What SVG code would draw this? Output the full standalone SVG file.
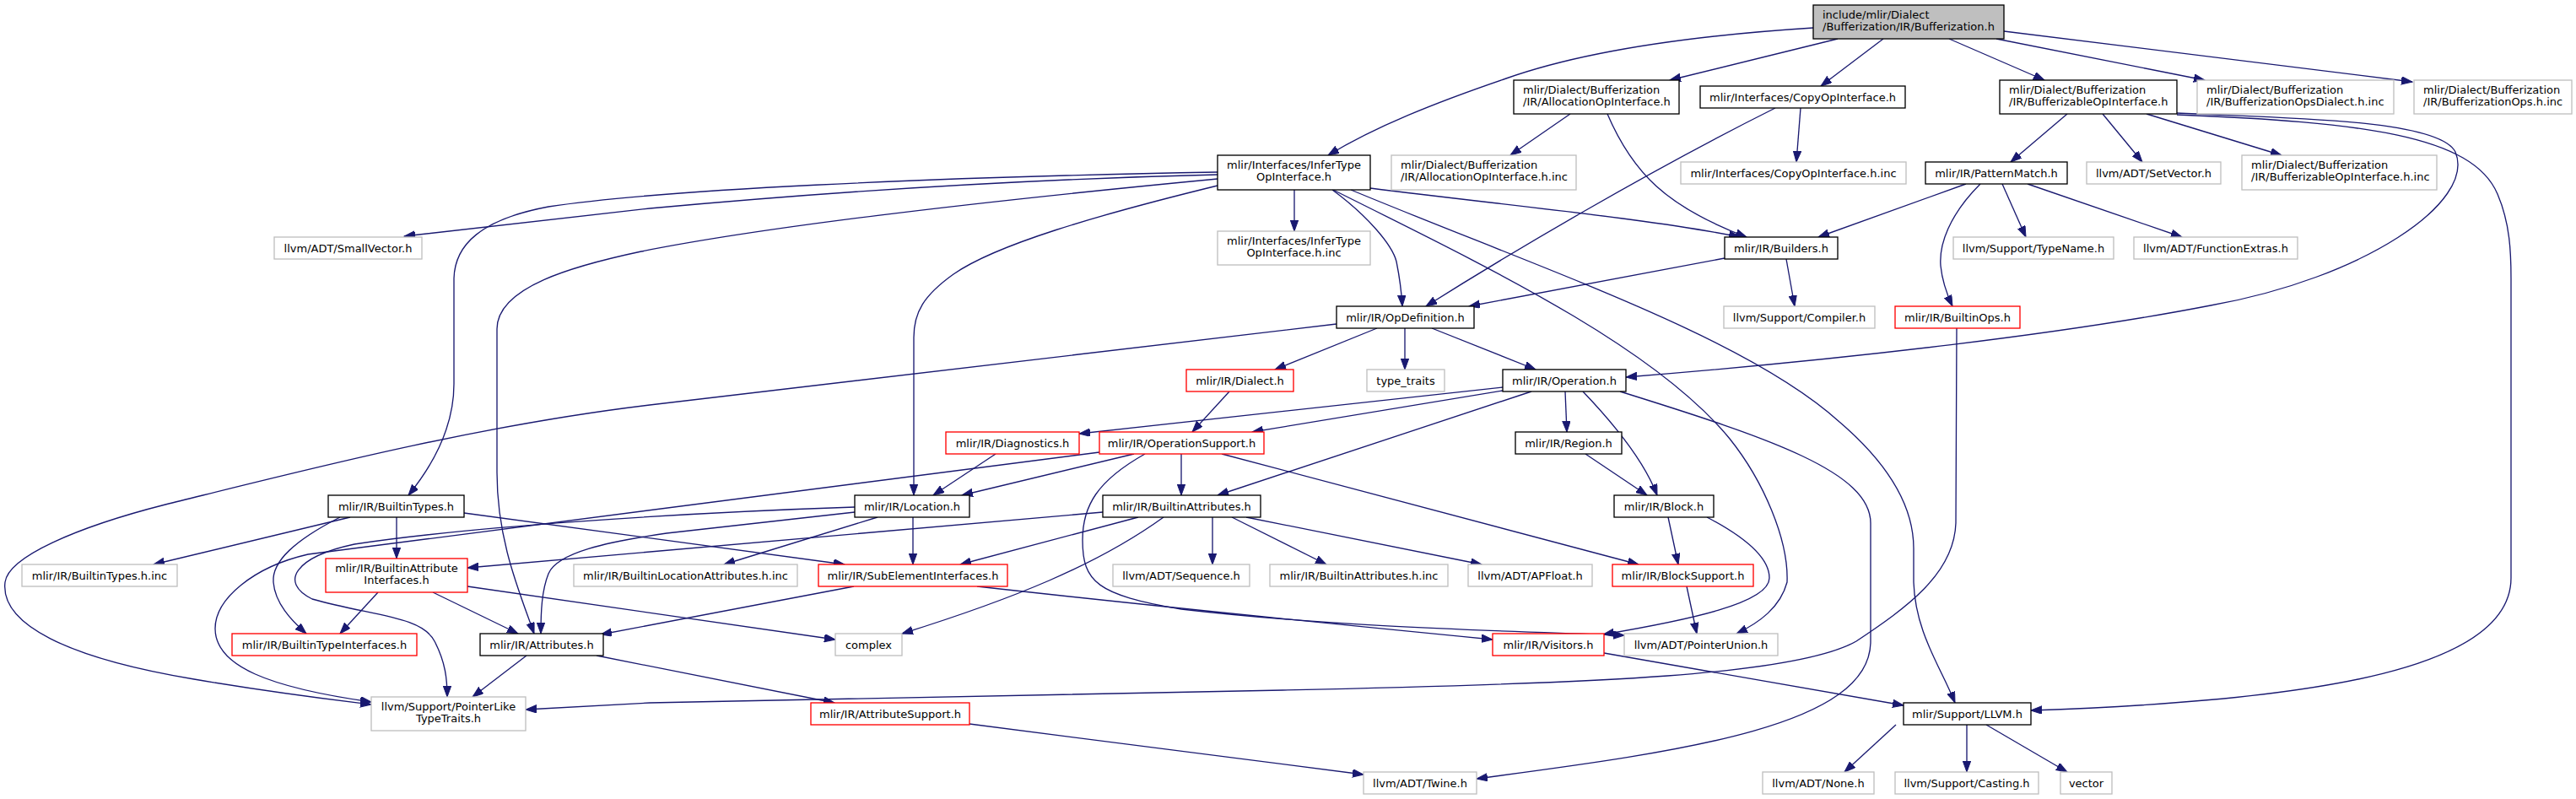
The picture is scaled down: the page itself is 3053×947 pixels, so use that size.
<svg xmlns="http://www.w3.org/2000/svg" width="3053" height="947" viewBox="0 0 3053 947">
<defs>
<style>
.nd rect{fill:#ffffff;stroke:#000000;stroke-width:1.33}
.ext rect{stroke:#bfbfbf}
.tr rect{stroke:#ff0000}
.root rect{fill:#bfbfbf}
text{font-family:"DejaVu Sans","Liberation Sans",sans-serif;font-size:13px;fill:#000000}
.c{text-anchor:middle}
.edges path{fill:none;stroke:#191970;stroke-width:1.33;marker-end:url(#ah)}
</style>
<marker id="ah" markerWidth="14" markerHeight="10" refX="13" refY="4.7" orient="auto" markerUnits="userSpaceOnUse">
<path d="M0,0 L13,4.7 L0,9.4 z" fill="#191970" stroke="#191970" stroke-width="1"/>
</marker>
</defs>
<rect x="0" y="0" width="3053" height="947" fill="#ffffff"/>
<g class="edges">
<path d="M2149,33 C1960,45 1850,70 1785,93 C1700,122 1630,150 1574,184"/>
<path d="M2178,46 L1979,95"/>
<path d="M2232,46 L2158,102"/>
<path d="M2310,46 L2423,95"/>
<path d="M2366,46 L2613,95"/>
<path d="M2375,37 L2859,97"/>
<path d="M1861,135 L1790,184"/>
<path d="M1905,135 C1935,205 1975,245 2070,281"/>
<path d="M2134,128 L2129,192"/>
<path d="M2104,128 C1950,205 1790,300 1690,363"/>
<path d="M2450,135 L2383,192"/>
<path d="M2492,135 L2539,192"/>
<path d="M2544,135 L2704,184"/>
<path d="M2580,134 C2700,140 2890,140 2910,180 C2935,240 2800,330 2620,362 C2450,395 2200,425 1927,447"/>
<path d="M2580,136 C2800,145 2930,160 2960,230 C2975,265 2976,300 2976,330 L2976,685 C2976,790 2760,830 2407,842"/>
<path d="M2330,218 L2155,281"/>
<path d="M2347,218 C2310,255 2298,290 2300,315 C2302,335 2308,350 2314,363"/>
<path d="M2373,218 L2401,281"/>
<path d="M2403,218 L2586,281"/>
<path d="M1443,207 C1150,214 900,235 770,247 L479,280"/>
<path d="M1443,204 C1100,210 780,225 650,245 C570,260 539,290 538,330 L538,455 C538,510 510,555 484,587"/>
<path d="M1443,212 C1150,240 900,270 760,298 C680,315 589,340 589,390 L589,560 C589,640 615,700 633,751"/>
<path d="M1443,220 C1300,255 1180,290 1130,325 C1095,350 1083,370 1083,400 L1083,587"/>
<path d="M1534,225 L1534,274"/>
<path d="M1579,225 C1620,255 1650,290 1655,310 C1659,330 1661,345 1662,363"/>
<path d="M1580,225 C1760,315 1960,410 2050,520 C2090,570 2120,640 2118,690 C2110,720 2085,738 2058,751"/>
<path d="M1601,225 C1830,320 2070,400 2180,500 C2250,560 2268,610 2268,650 L2268,690 C2270,750 2300,790 2317,833"/>
<path d="M1624,223 C1800,245 1960,260 2062,281"/>
<path d="M2117,307 L2127,363"/>
<path d="M2044,306 L1741,363"/>
<path d="M1632,389 L1511,438"/>
<path d="M1665,389 L1665,438"/>
<path d="M1697,389 L1820,438"/>
<path d="M1584,384 L770,480 C560,505 350,560 196,598 C90,625 10,660 6,690 C0,740 80,780 230,805 C330,822 400,830 440,835"/>
<path d="M1457,464 L1413,512"/>
<path d="M1781,459 L1279,514"/>
<path d="M1781,463 L1484,512"/>
<path d="M1815,464 L1443,587"/>
<path d="M1855,464 L1857,512"/>
<path d="M1876,464 C1920,510 1950,550 1964,587"/>
<path d="M1920,464 C2100,520 2217,560 2217,620 L2217,760 C2217,860 2000,890 1750,923"/>
<path d="M1879,538 L1952,587"/>
<path d="M1180,538 L1106,587"/>
<path d="M1344,538 L1140,587"/>
<path d="M1400,538 L1400,587"/>
<path d="M1448,538 L1942,669"/>
<path d="M1303,536 L365,657 C300,672 255,710 255,745 C255,790 320,815 440,832"/>
<path d="M1357,538 C1300,570 1283,600 1283,640 C1283,690 1300,705 1400,722 C1600,745 1800,748 1925,753"/>
<path d="M415,613 L182,669"/>
<path d="M403,613 C350,640 322,665 324,690 C326,715 345,735 363,751"/>
<path d="M470,613 L470,662"/>
<path d="M550,608 L1001,669"/>
<path d="M1040,613 L858,669"/>
<path d="M1082,613 L1082,669"/>
<path d="M1013,607 L790,632 C720,642 660,655 650,680 C642,700 641,725 641,751"/>
<path d="M1013,601 C800,608 550,625 420,645 C350,660 330,690 370,710 C440,730 500,730 515,760 C528,785 530,805 530,826"/>
<path d="M1307,607 L554,673"/>
<path d="M1349,613 L1138,669"/>
<path d="M1379,613 C1300,670 1200,710 1069,751"/>
<path d="M1437,613 L1437,669"/>
<path d="M1460,613 L1572,669"/>
<path d="M1477,613 L1756,669"/>
<path d="M448,702 L403,751"/>
<path d="M513,702 L614,751"/>
<path d="M554,695 L990,758"/>
<path d="M1012,695 L712,752"/>
<path d="M1158,695 Q1400,722 1769,758"/>
<path d="M624,777 L560,826"/>
<path d="M707,777 L989,833"/>
<path d="M1149,858 L1616,918"/>
<path d="M1977,613 L1989,669"/>
<path d="M2023,613 C2065,635 2097,660 2097,685 C2097,715 2000,735 1900,752"/>
<path d="M1999,695 L2011,751"/>
<path d="M1901,774 L2256,836"/>
<path d="M2319,389 L2318,620 C2316,680 2260,720 2200,760 C2130,800 1900,810 1520,818 L770,833 L623,841"/>
<path d="M2247,859 L2186,915"/>
<path d="M2331,859 L2331,915"/>
<path d="M2354,859 L2450,915"/>
</g>
<g id="n-top" class="nd root"><rect x="2149" y="6" width="226" height="40"/><text x="2160" y="21.5">include/mlir/Dialect</text><text x="2160" y="36">/Bufferization/IR/Bufferization.h</text></g>
<g id="n-infer" class="nd"><rect x="1443" y="184" width="181" height="41"/><text class="c" x="1533.5" y="199.5">mlir/Interfaces/InferType</text><text class="c" x="1533.5" y="214">OpInterface.h</text></g>
<g id="n-alloc" class="nd"><rect x="1794" y="95" width="196" height="40"/><text x="1805" y="110.5">mlir/Dialect/Bufferization</text><text x="1805" y="125">/IR/AllocationOpInterface.h</text></g>
<g id="n-copy" class="nd"><rect x="2015" y="102" width="243" height="26"/><text class="c" x="2136.5" y="119.5">mlir/Interfaces/CopyOpInterface.h</text></g>
<g id="n-bufop" class="nd"><rect x="2370" y="95" width="210" height="40"/><text x="2381" y="110.5">mlir/Dialect/Bufferization</text><text x="2381" y="125">/IR/BufferizableOpInterface.h</text></g>
<g id="n-dialectinc" class="nd ext"><rect x="2604" y="95" width="233" height="40"/><text x="2615" y="110.5">mlir/Dialect/Bufferization</text><text x="2615" y="125">/IR/BufferizationOpsDialect.h.inc</text></g>
<g id="n-opsinc" class="nd ext"><rect x="2861" y="95" width="187" height="40"/><text x="2872" y="110.5">mlir/Dialect/Bufferization</text><text x="2872" y="125">/IR/BufferizationOps.h.inc</text></g>
<g id="n-smallvec" class="nd ext"><rect x="325" y="281" width="175" height="26"/><text class="c" x="412.5" y="298.5">llvm/ADT/SmallVector.h</text></g>
<g id="n-inferinc" class="nd ext"><rect x="1443" y="274" width="181" height="40"/><text class="c" x="1533.5" y="289.5">mlir/Interfaces/InferType</text><text class="c" x="1533.5" y="304">OpInterface.h.inc</text></g>
<g id="n-allocinc" class="nd ext"><rect x="1649" y="184" width="219" height="41"/><text x="1660" y="199.5">mlir/Dialect/Bufferization</text><text x="1660" y="214">/IR/AllocationOpInterface.h.inc</text></g>
<g id="n-builders" class="nd"><rect x="2044" y="281" width="134" height="26"/><text class="c" x="2111" y="298.5">mlir/IR/Builders.h</text></g>
<g id="n-copyinc" class="nd ext"><rect x="1992" y="192" width="267" height="26"/><text class="c" x="2125.5" y="209.5">mlir/Interfaces/CopyOpInterface.h.inc</text></g>
<g id="n-patternmatch" class="nd"><rect x="2282" y="192" width="168" height="26"/><text class="c" x="2366" y="209.5">mlir/IR/PatternMatch.h</text></g>
<g id="n-setvector" class="nd ext"><rect x="2473" y="192" width="159" height="26"/><text class="c" x="2552.5" y="209.5">llvm/ADT/SetVector.h</text></g>
<g id="n-bufopinc" class="nd ext"><rect x="2657" y="184" width="231" height="41"/><text x="2668" y="199.5">mlir/Dialect/Bufferization</text><text x="2668" y="214">/IR/BufferizableOpInterface.h.inc</text></g>
<g id="n-typename" class="nd ext"><rect x="2315" y="281" width="190" height="26"/><text class="c" x="2410" y="298.5">llvm/Support/TypeName.h</text></g>
<g id="n-funcextras" class="nd ext"><rect x="2529" y="281" width="194" height="26"/><text class="c" x="2626" y="298.5">llvm/ADT/FunctionExtras.h</text></g>
<g id="n-compiler" class="nd ext"><rect x="2043" y="363" width="179" height="26"/><text class="c" x="2132.5" y="380.5">llvm/Support/Compiler.h</text></g>
<g id="n-builtinops" class="nd tr"><rect x="2246" y="363" width="148" height="26"/><text class="c" x="2320" y="380.5">mlir/IR/BuiltinOps.h</text></g>
<g id="n-opdef" class="nd"><rect x="1584" y="363" width="163" height="26"/><text class="c" x="1665.5" y="380.5">mlir/IR/OpDefinition.h</text></g>
<g id="n-dialect" class="nd tr"><rect x="1406" y="438" width="127" height="26"/><text class="c" x="1469.5" y="455.5">mlir/IR/Dialect.h</text></g>
<g id="n-typetraits" class="nd ext"><rect x="1620" y="438" width="92" height="26"/><text class="c" x="1666" y="455.5">type_traits</text></g>
<g id="n-operation" class="nd"><rect x="1781" y="438" width="146" height="26"/><text class="c" x="1854" y="455.5">mlir/IR/Operation.h</text></g>
<g id="n-diagnostics" class="nd tr"><rect x="1121" y="512" width="158" height="26"/><text class="c" x="1200" y="529.5">mlir/IR/Diagnostics.h</text></g>
<g id="n-opsupport" class="nd tr"><rect x="1303" y="512" width="195" height="26"/><text class="c" x="1400.5" y="529.5">mlir/IR/OperationSupport.h</text></g>
<g id="n-region" class="nd"><rect x="1796" y="512" width="126" height="26"/><text class="c" x="1859" y="529.5">mlir/IR/Region.h</text></g>
<g id="n-builtintypes" class="nd"><rect x="389" y="587" width="161" height="26"/><text class="c" x="469.5" y="604.5">mlir/IR/BuiltinTypes.h</text></g>
<g id="n-location" class="nd"><rect x="1013" y="587" width="136" height="26"/><text class="c" x="1081" y="604.5">mlir/IR/Location.h</text></g>
<g id="n-builtinattrs" class="nd"><rect x="1307" y="587" width="187" height="26"/><text class="c" x="1400.5" y="604.5">mlir/IR/BuiltinAttributes.h</text></g>
<g id="n-block" class="nd"><rect x="1913" y="587" width="118" height="26"/><text class="c" x="1972" y="604.5">mlir/IR/Block.h</text></g>
<g id="n-btinc" class="nd ext"><rect x="26" y="669" width="184" height="26"/><text class="c" x="118" y="686.5">mlir/IR/BuiltinTypes.h.inc</text></g>
<g id="n-bai" class="nd tr"><rect x="386" y="662" width="168" height="40"/><text class="c" x="470" y="677.5">mlir/IR/BuiltinAttribute</text><text class="c" x="470" y="692">Interfaces.h</text></g>
<g id="n-blainc" class="nd ext"><rect x="680" y="669" width="265" height="26"/><text class="c" x="812.5" y="686.5">mlir/IR/BuiltinLocationAttributes.h.inc</text></g>
<g id="n-subelem" class="nd tr"><rect x="970" y="669" width="224" height="26"/><text class="c" x="1082" y="686.5">mlir/IR/SubElementInterfaces.h</text></g>
<g id="n-sequence" class="nd ext"><rect x="1319" y="669" width="162" height="26"/><text class="c" x="1400" y="686.5">llvm/ADT/Sequence.h</text></g>
<g id="n-bainc" class="nd ext"><rect x="1505" y="669" width="211" height="26"/><text class="c" x="1610.5" y="686.5">mlir/IR/BuiltinAttributes.h.inc</text></g>
<g id="n-apfloat" class="nd ext"><rect x="1740" y="669" width="147" height="26"/><text class="c" x="1813.5" y="686.5">llvm/ADT/APFloat.h</text></g>
<g id="n-blocksupport" class="nd tr"><rect x="1911" y="669" width="167" height="26"/><text class="c" x="1994.5" y="686.5">mlir/IR/BlockSupport.h</text></g>
<g id="n-bti" class="nd tr"><rect x="275" y="751" width="219" height="26"/><text class="c" x="384.5" y="768.5">mlir/IR/BuiltinTypeInterfaces.h</text></g>
<g id="n-attributes" class="nd"><rect x="569" y="751" width="146" height="26"/><text class="c" x="642" y="768.5">mlir/IR/Attributes.h</text></g>
<g id="n-complex" class="nd ext"><rect x="990" y="751" width="79" height="26"/><text class="c" x="1029.5" y="768.5">complex</text></g>
<g id="n-visitors" class="nd tr"><rect x="1769" y="751" width="132" height="26"/><text class="c" x="1835" y="768.5">mlir/IR/Visitors.h</text></g>
<g id="n-pointerunion" class="nd ext"><rect x="1925" y="751" width="182" height="26"/><text class="c" x="2016" y="768.5">llvm/ADT/PointerUnion.h</text></g>
<g id="n-pointerlike" class="nd ext"><rect x="440" y="826" width="183" height="40"/><text class="c" x="531.5" y="841.5">llvm/Support/PointerLike</text><text class="c" x="531.5" y="856">TypeTraits.h</text></g>
<g id="n-attrsupport" class="nd tr"><rect x="961" y="833" width="188" height="26"/><text class="c" x="1055" y="850.5">mlir/IR/AttributeSupport.h</text></g>
<g id="n-llvm" class="nd"><rect x="2256" y="833" width="151" height="26"/><text class="c" x="2331.5" y="850.5">mlir/Support/LLVM.h</text></g>
<g id="n-twine" class="nd ext"><rect x="1616" y="915" width="134" height="26"/><text class="c" x="1683" y="932.5">llvm/ADT/Twine.h</text></g>
<g id="n-none" class="nd ext"><rect x="2089" y="915" width="132" height="26"/><text class="c" x="2155" y="932.5">llvm/ADT/None.h</text></g>
<g id="n-casting" class="nd ext"><rect x="2246" y="915" width="170" height="26"/><text class="c" x="2331" y="932.5">llvm/Support/Casting.h</text></g>
<g id="n-vector" class="nd ext"><rect x="2442" y="915" width="61" height="26"/><text class="c" x="2472.5" y="932.5">vector</text></g>
</svg>
